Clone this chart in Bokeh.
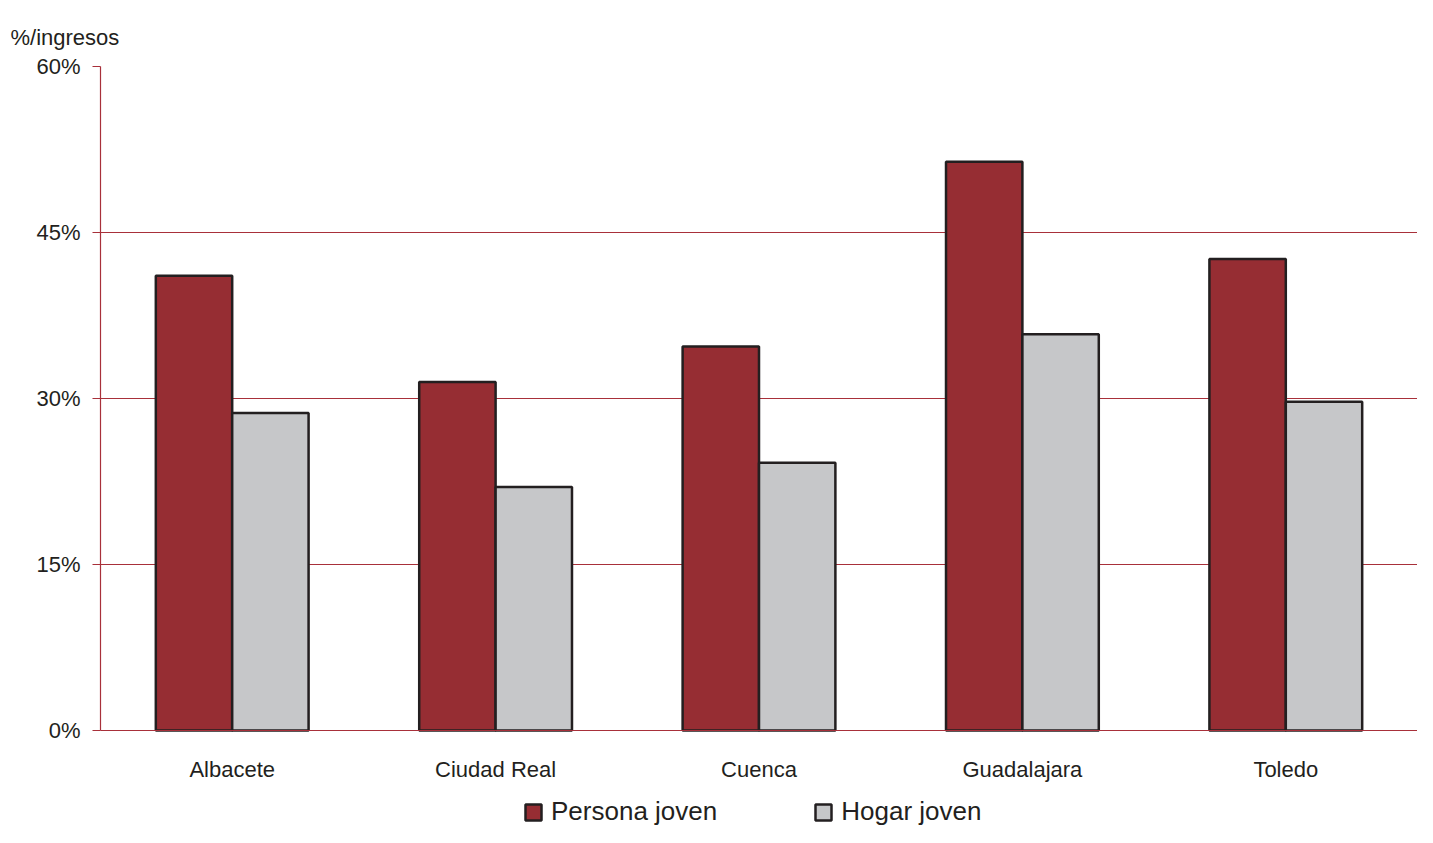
from bokeh.plotting import figure
from bokeh.models import FactorRange, FixedTicker, PrintfTickFormatter, Legend, LegendItem, Title, ColumnDataSource
from bokeh.transform import dodge
from bokeh.embed import file_html
from bokeh.resources import INLINE

categories = ["Albacete", "Ciudad Real", "Cuenca", "Guadalajara", "Toledo"]
persona_joven = [41.1, 31.5, 34.7, 51.4, 42.6]
hogar_joven = [28.7, 22.0, 24.2, 35.8, 29.7]
y_ticks = [0, 15, 30, 45, 60]
series_names = ["Persona joven", "Hogar joven"]

FONT = "Liberation Sans"
TXT = "#231f20"
RED = "#962d33"
GRAY = "#c6c7c9"
GRID = "#a8303a"

src = ColumnDataSource(dict(cat=categories, persona=persona_joven, hogar=hogar_joven))

# frame runs from the 60% line down to the canvas bottom, so the legend fits inside it
p = figure(x_range=FactorRange(*categories, range_padding=0), y_range=(-8.76, 60),
           width=1417, height=827, output_backend="svg", toolbar_location=None,
           min_border_left=100, min_border_right=0, min_border_top=66, min_border_bottom=0)

p.add_layout(Title(text="%/ingresos", text_font=FONT, text_font_size="22px", text_color=TXT,
                   text_font_style="normal", align="left", offset=-90, standoff=29,
                   vertical_align="top"), "above")

r1 = p.vbar(x=dodge("cat", -0.145, range=p.x_range), top="persona", width=0.29, source=src,
            fill_color=RED, line_color=TXT, line_width=2.5)
r2 = p.vbar(x=dodge("cat", 0.145, range=p.x_range), top="hogar", width=0.29, source=src,
            fill_color=GRAY, line_color=TXT, line_width=2.5)

p.outline_line_color = None
p.xgrid.grid_line_color = None
p.ygrid.grid_line_color = GRID
p.ygrid.grid_line_width = 1.2
p.yaxis.ticker = FixedTicker(ticks=y_ticks)
p.yaxis.bounds = (0, 60)
p.yaxis.formatter = PrintfTickFormatter(format="%d%%")
p.yaxis.axis_line_color = GRID
p.yaxis.axis_line_width = 1.2
p.yaxis.major_tick_line_color = GRID
p.yaxis.major_tick_line_width = 1.2
p.yaxis.major_tick_out = 8
p.yaxis.major_tick_in = 0
p.yaxis.minor_tick_line_color = None
p.yaxis.major_label_standoff = 12
p.xaxis.fixed_location = 0
p.xaxis.axis_line_color = GRID
p.xaxis.axis_line_width = 1.2
p.xaxis.major_tick_line_color = None
p.xaxis.minor_tick_line_color = None
p.xaxis.major_label_standoff = 20
for ax in (p.xaxis, p.yaxis):
    ax.major_label_text_font = FONT
    ax.major_label_text_font_size = "22px"
    ax.major_label_text_color = TXT

legend = Legend(items=[LegendItem(label=series_names[0], renderers=[r1]),
                       LegendItem(label=series_names[1], renderers=[r2])],
                orientation="horizontal", location=(423, 0),
                glyph_width=20, glyph_height=20, label_standoff=8, spacing=96,
                label_text_font=FONT, label_text_font_size="26px", label_text_color=TXT,
                border_line_color=None, background_fill_alpha=0, padding=0, margin=0)
p.add_layout(legend, "center")

open("out.html", "w").write(file_html(p, INLINE))
